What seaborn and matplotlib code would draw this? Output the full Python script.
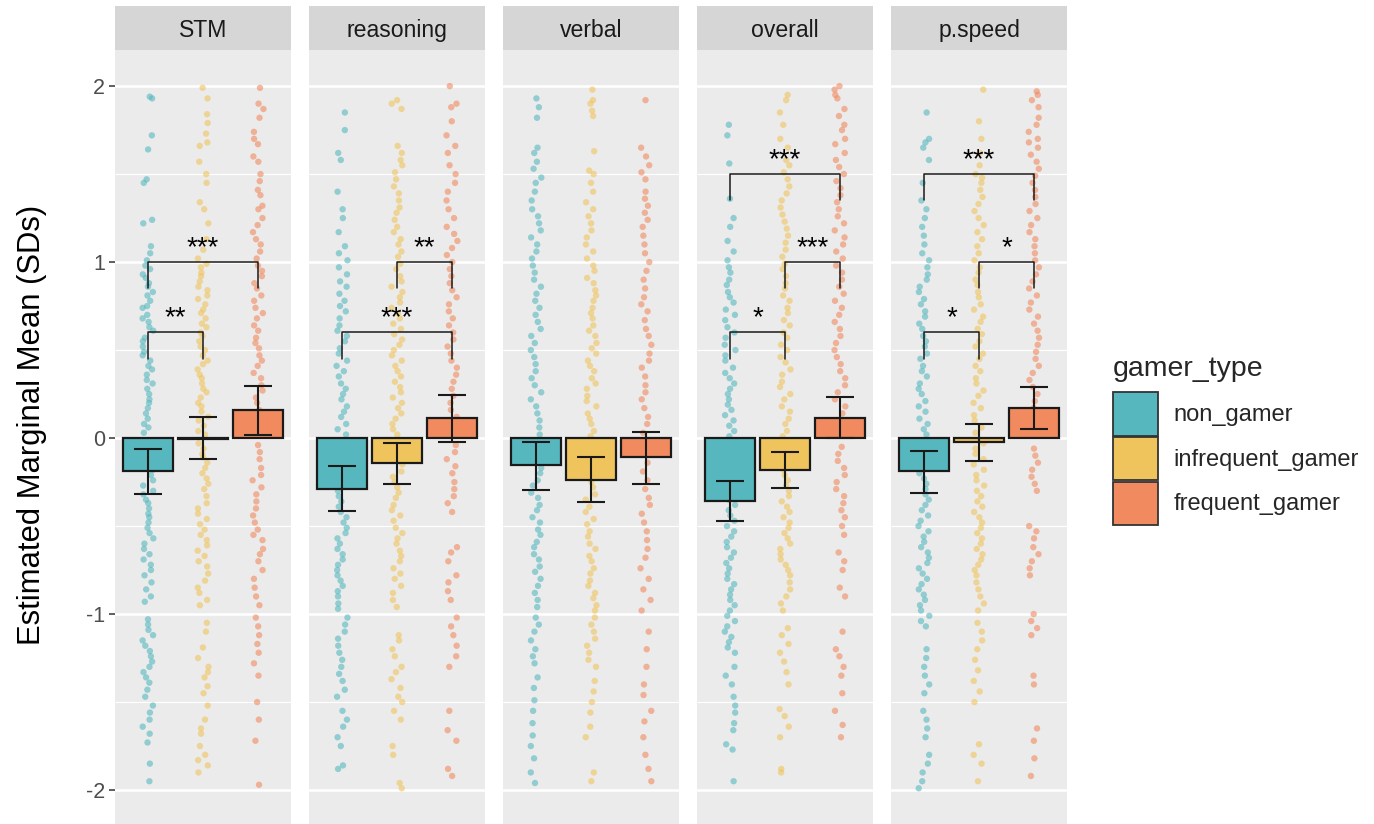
import numpy as np
import pandas as pd
import matplotlib
matplotlib.use("Agg")
import matplotlib.pyplot as plt
import seaborn as sns
from matplotlib.patches import Patch

# ---------------- data ----------------
outcomes = ["STM", "reasoning", "verbal", "overall", "p.speed"]
gamer_types = ["non_gamer", "infrequent_gamer", "frequent_gamer"]
colors = ["#56B8BE", "#F0C45C", "#F18A5E"]

y_ticks = [-2, -1, 0, 1, 2]
y_tick_labels = ["-2", "-1", "0", "1", "2"]

# estimated marginal means and their error-bar limits (non, infrequent, frequent)
emm_stm = [-0.19, -0.005, 0.16]
lo_stm = [-0.32, -0.12, 0.02]
hi_stm = [-0.06, 0.12, 0.295]

emm_rea = [-0.29, -0.14, 0.115]
lo_rea = [-0.415, -0.26, -0.02]
hi_rea = [-0.16, -0.03, 0.245]

emm_ver = [-0.155, -0.24, -0.11]
lo_ver = [-0.295, -0.365, -0.26]
hi_ver = [-0.02, -0.11, 0.034]

emm_ove = [-0.36, -0.18, 0.115]
lo_ove = [-0.47, -0.285, 0.0]
hi_ove = [-0.245, -0.08, 0.235]

emm_psp = [-0.19, -0.025, 0.17]
lo_psp = [-0.31, -0.13, 0.05]
hi_psp = [-0.075, 0.08, 0.29]

# significance brackets: (group a, group b, bracket height, label)
sig_stm = [(0, 2, 1.0, "***"), (0, 1, 0.6, "**")]
sig_rea = [(0, 2, 0.6, "***"), (1, 2, 1.0, "**")]
sig_ver = []
sig_ove = [(0, 2, 1.5, "***"), (1, 2, 1.0, "***"), (0, 1, 0.6, "*")]
sig_psp = [(0, 2, 1.5, "***"), (1, 2, 1.0, "*"), (0, 1, 0.6, "*")]

# individual scores
stm_non = [1.94, 1.93, 1.72, 1.64, 1.47, 1.45, 1.24, 1.22, 1.09, 1.05,
           1.01, 0.98, 0.96, 0.93, 0.91, 0.88, 0.86, 0.83, 0.81, 0.78, 0.75, 0.74, 0.70, 0.68, 0.66, 0.63, 0.61,
           0.57, 0.55, 0.52, 0.49, 0.47, 0.44, 0.41, 0.39, 0.36, 0.33, 0.31, 0.28, 0.25, 0.22, 0.20, 0.17, 0.14,
           0.11, 0.08, 0.06, 0.03, -0.02, -0.04, -0.07, -0.10, -0.13, -0.15, -0.18, -0.21, -0.24, -0.27, -0.30,
           -0.32, -0.35, -0.37, -0.40, -0.43, -0.45, -0.48, -0.51, -0.54, -0.57, -0.60, -0.63, -0.66, -0.69, -0.72,
           -0.75, -0.78, -0.82, -0.86, -0.90, -0.93, -1.03, -1.06, -1.09, -1.12, -1.15, -1.18, -1.21, -1.24, -1.27,
           -1.30, -1.33, -1.36, -1.39, -1.43, -1.47, -1.52, -1.56, -1.60, -1.64, -1.68, -1.73, -1.85, -1.95]
stm_inf = [1.99, 1.93, 1.84, 1.79, 1.73, 1.68, 1.66, 1.57, 1.50, 1.45, 1.34, 1.30, 1.22, 1.13, 1.07, 1.02,
           0.99, 0.97, 0.94, 0.92, 0.89, 0.86, 0.84, 0.81, 0.79, 0.76, 0.73, 0.71, 0.68, 0.65, 0.63, 0.60, 0.58,
           0.55, 0.52, 0.50, 0.47, 0.44, 0.42, 0.39, 0.36, 0.34, 0.31, 0.28, 0.26, 0.23, 0.20, 0.18, 0.15, 0.12,
           0.10, 0.07, 0.04, 0.02, -0.03, -0.06, -0.09, -0.11, -0.14, -0.17, -0.20, -0.23, -0.26, -0.29, -0.33,
           -0.37, -0.40, -0.43, -0.46, -0.49, -0.52, -0.55, -0.58, -0.61, -0.64, -0.67, -0.70, -0.73, -0.77, -0.81,
           -0.85, -0.88, -0.92, -0.95, -1.05, -1.10, -1.19, -1.25, -1.30, -1.33, -1.36, -1.41, -1.45, -1.52, -1.60,
           -1.65, -1.68, -1.75, -1.80, -1.83, -1.86, -1.90]
stm_freq = [1.99, 1.90, 1.87, 1.82, 1.74, 1.70, 1.67, 1.60, 1.57, 1.50, 1.46, 1.41, 1.38, 1.32, 1.30, 1.25,
            1.21, 1.17, 1.13, 1.10, 1.06, 1.02, 0.98, 0.95, 0.92, 0.88, 0.85, 0.81, 0.78, 0.74, 0.71, 0.68, 0.64,
            0.61, 0.57, 0.54, 0.51, 0.47, 0.44, 0.41, 0.37, 0.34, 0.30, 0.27, 0.23, 0.20, 0.16, 0.13, 0.09, 0.05,
            -0.04, -0.08, -0.12, -0.17, -0.21, -0.24, -0.28, -0.32, -0.36, -0.40, -0.44, -0.48, -0.52, -0.55,
            -0.58, -0.63, -0.66, -0.70, -0.75, -0.80, -0.85, -0.90, -0.95, -1.02, -1.07, -1.12, -1.17, -1.22,
            -1.28, -1.35, -1.50, -1.60, -1.72, -1.97]

rea_non = [1.85, 1.75, 1.62, 1.58, 1.40, 1.30, 1.25, 1.17, 1.09, 1.05, 1.01, 0.97, 0.93, 0.89, 0.86, 0.82,
           0.78, 0.75, 0.72, 0.68, 0.64, 0.61, 0.58, 0.55, 0.51, 0.48, 0.44, 0.41, 0.38, 0.35, 0.31, 0.28, 0.25,
           0.22, 0.18, 0.15, 0.12, 0.08, 0.05, 0.02, -0.03, -0.06, -0.09, -0.12, -0.15, -0.18, -0.21, -0.24,
           -0.27, -0.30, -0.33, -0.36, -0.39, -0.42, -0.45, -0.48, -0.51, -0.54, -0.57, -0.60, -0.63, -0.66,
           -0.69, -0.72, -0.75, -0.78, -0.81, -0.84, -0.87, -0.90, -0.94, -0.97, -1.02, -1.06, -1.10, -1.14,
           -1.18, -1.22, -1.26, -1.30, -1.34, -1.38, -1.43, -1.47, -1.55, -1.60, -1.64, -1.70, -1.75, -1.86, -1.88]
rea_inf = [1.92, 1.90, 1.87, 1.66, 1.62, 1.58, 1.55, 1.51, 1.47, 1.43, 1.39, 1.35, 1.31, 1.28, 1.24, 1.20,
           1.17, 1.13, 1.10, 1.06, 1.03, 0.99, 0.96, 0.92, 0.89, 0.86, 0.83, 0.80, 0.77, 0.74, 0.71, 0.68, 0.65,
           0.62, 0.59, 0.56, 0.53, 0.50, 0.47, 0.44, 0.41, 0.38, 0.35, 0.32, 0.29, 0.26, 0.23, 0.20, 0.17, 0.14,
           0.11, 0.08, 0.05, 0.02, -0.03, -0.06, -0.09, -0.12, -0.15, -0.19, -0.22, -0.25, -0.28, -0.31, -0.34,
           -0.38, -0.41, -0.44, -0.47, -0.51, -0.54, -0.57, -0.60, -0.64, -0.67, -0.70, -0.74, -0.77, -0.80,
           -0.84, -0.88, -0.92, -0.96, -1.12, -1.15, -1.20, -1.24, -1.30, -1.33, -1.37, -1.42, -1.47, -1.50,
           -1.55, -1.60, -1.75, -1.80, -1.96, -1.99]
rea_freq = [2.00, 1.90, 1.88, 1.80, 1.72, 1.66, 1.62, 1.55, 1.50, 1.45, 1.40, 1.35, 1.30, 1.25, 1.20, 1.16,
            1.12, 1.08, 1.04, 1.00, 0.96, 0.92, 0.88, 0.84, 0.80, 0.76, 0.72, 0.68, 0.64, 0.60, 0.56, 0.52, 0.48,
            0.44, 0.40, 0.36, 0.32, 0.28, 0.24, 0.20, 0.16, 0.12, 0.08, 0.04, -0.04, -0.08, -0.12, -0.16, -0.20,
            -0.25, -0.29, -0.33, -0.37, -0.42, -0.62, -0.65, -0.70, -0.78, -0.82, -0.87, -0.92, -1.02, -1.07,
            -1.12, -1.18, -1.24, -1.30, -1.55, -1.66, -1.72, -1.88, -1.92]

ver_non = [1.93, 1.88, 1.82, 1.65, 1.62, 1.57, 1.53, 1.48, 1.45, 1.40, 1.35, 1.30, 1.26, 1.22, 1.18, 1.14,
           1.10, 1.06, 1.02, 0.98, 0.94, 0.90, 0.86, 0.82, 0.78, 0.74, 0.70, 0.66, 0.62, 0.58, 0.54, 0.50, 0.46,
           0.42, 0.38, 0.34, 0.30, 0.26, 0.22, 0.18, 0.14, 0.10, 0.06, 0.02, -0.03, -0.06, -0.10, -0.13, -0.17,
           -0.20, -0.24, -0.27, -0.31, -0.34, -0.38, -0.41, -0.45, -0.48, -0.52, -0.55, -0.59, -0.62, -0.66,
           -0.69, -0.73, -0.76, -0.80, -0.84, -0.88, -0.92, -0.96, -1.02, -1.06, -1.10, -1.15, -1.20, -1.24,
           -1.28, -1.36, -1.42, -1.49, -1.55, -1.62, -1.69, -1.75, -1.82, -1.90, -1.96]
ver_inf = [1.98, 1.92, 1.90, 1.86, 1.83, 1.63, 1.52, 1.50, 1.45, 1.40, 1.34, 1.30, 1.26, 1.22, 1.18, 1.14,
           1.10, 1.06, 1.02, 0.98, 0.95, 0.91, 0.88, 0.84, 0.81, 0.78, 0.74, 0.71, 0.68, 0.64, 0.61, 0.58, 0.54,
           0.51, 0.48, 0.44, 0.41, 0.38, 0.34, 0.31, 0.28, 0.24, 0.21, 0.18, 0.14, 0.11, 0.08, 0.04, 0.01, -0.04,
           -0.07, -0.11, -0.14, -0.18, -0.21, -0.25, -0.28, -0.32, -0.35, -0.39, -0.42, -0.46, -0.49, -0.53,
           -0.56, -0.60, -0.63, -0.67, -0.70, -0.74, -0.77, -0.81, -0.84, -0.88, -0.91, -0.95, -0.98, -1.02,
           -1.06, -1.10, -1.14, -1.18, -1.22, -1.26, -1.30, -1.38, -1.44, -1.50, -1.56, -1.64, -1.70, -1.90, -1.95]
ver_freq = [1.92, 1.65, 1.60, 1.55, 1.51, 1.47, 1.40, 1.36, 1.32, 1.28, 1.24, 1.20, 1.15, 1.10, 1.05, 1.00,
            0.95, 0.90, 0.85, 0.80, 0.76, 0.72, 0.67, 0.62, 0.58, 0.53, 0.48, 0.44, 0.40, 0.35, 0.30, 0.26, 0.22,
            0.17, 0.12, 0.08, 0.03, -0.04, -0.09, -0.14, -0.19, -0.24, -0.29, -0.34, -0.38, -0.43, -0.48, -0.53,
            -0.58, -0.63, -0.68, -0.74, -0.80, -0.86, -0.92, -0.98, -1.10, -1.20, -1.30, -1.40, -1.46, -1.55,
            -1.61, -1.70, -1.80, -1.88, -1.95]

ove_non = [1.78, 1.72, 1.56, 1.36, 1.25, 1.20, 1.12, 1.06, 1.01, 0.97, 0.94, 0.90, 0.87, 0.83, 0.80, 0.77,
           0.73, 0.70, 0.67, 0.63, 0.60, 0.57, 0.53, 0.50, 0.47, 0.44, 0.40, 0.37, 0.34, 0.31, 0.28, 0.25, 0.22,
           0.19, 0.16, 0.13, 0.10, 0.07, 0.04, 0.01, -0.02, -0.05, -0.08, -0.11, -0.14, -0.17, -0.20, -0.23,
           -0.26, -0.29, -0.32, -0.35, -0.38, -0.41, -0.44, -0.47, -0.50, -0.53, -0.56, -0.59, -0.62, -0.65,
           -0.68, -0.71, -0.74, -0.77, -0.80, -0.83, -0.86, -0.89, -0.92, -0.95, -0.98, -1.01, -1.04, -1.07,
           -1.10, -1.13, -1.16, -1.19, -1.22, -1.30, -1.35, -1.40, -1.47, -1.52, -1.56, -1.62, -1.66, -1.74,
           -1.77, -1.95]
ove_inf = [1.95, 1.92, 1.85, 1.78, 1.70, 1.65, 1.58, 1.55, 1.51, 1.47, 1.43, 1.39, 1.35, 1.31, 1.27, 1.23,
           1.19, 1.15, 1.11, 1.07, 1.03, 0.99, 0.96, 0.92, 0.88, 0.85, 0.81, 0.78, 0.74, 0.71, 0.67, 0.64, 0.60,
           0.57, 0.53, 0.50, 0.46, 0.43, 0.39, 0.36, 0.32, 0.29, 0.25, 0.22, 0.18, 0.15, 0.11, 0.08, 0.04, 0.01,
           -0.03, -0.06, -0.09, -0.12, -0.15, -0.18, -0.21, -0.24, -0.27, -0.30, -0.33, -0.36, -0.39, -0.42,
           -0.45, -0.48, -0.51, -0.54, -0.57, -0.60, -0.63, -0.66, -0.69, -0.72, -0.75, -0.78, -0.82, -0.86,
           -0.90, -0.94, -0.98, -1.08, -1.12, -1.17, -1.22, -1.27, -1.33, -1.40, -1.54, -1.58, -1.64, -1.70,
           -1.88, -1.90]
ove_freq = [2.00, 1.98, 1.95, 1.93, 1.87, 1.83, 1.78, 1.75, 1.70, 1.67, 1.62, 1.58, 1.54, 1.50, 1.46, 1.42,
            1.38, 1.34, 1.30, 1.26, 1.22, 1.18, 1.14, 1.10, 1.06, 1.02, 0.98, 0.94, 0.90, 0.86, 0.82, 0.78, 0.74,
            0.70, 0.66, 0.62, 0.58, 0.54, 0.50, 0.46, 0.42, 0.38, 0.34, 0.30, 0.26, 0.22, 0.18, 0.14, 0.10, 0.06,
            0.02, -0.05, -0.09, -0.13, -0.17, -0.21, -0.25, -0.29, -0.33, -0.37, -0.41, -0.45, -0.50, -0.55,
            -0.65, -0.70, -0.75, -0.85, -0.90, -1.10, -1.20, -1.24, -1.30, -1.35, -1.45, -1.55, -1.63, -1.70]

psp_non = [1.85, 1.70, 1.68, 1.65, 1.58, 1.45, 1.35, 1.30, 1.25, 1.20, 1.15, 1.10, 1.05, 1.01, 0.97, 0.93,
           0.90, 0.86, 0.83, 0.79, 0.76, 0.72, 0.69, 0.65, 0.62, 0.58, 0.55, 0.52, 0.48, 0.45, 0.41, 0.38, 0.35,
           0.31, 0.28, 0.25, 0.21, 0.18, 0.15, 0.11, 0.08, 0.05, 0.02, -0.02, -0.05, -0.08, -0.11, -0.14, -0.17,
           -0.20, -0.23, -0.26, -0.29, -0.32, -0.35, -0.38, -0.41, -0.44, -0.47, -0.50, -0.53, -0.56, -0.59,
           -0.62, -0.65, -0.68, -0.71, -0.74, -0.77, -0.80, -0.83, -0.86, -0.89, -0.92, -0.95, -0.98, -1.01,
           -1.04, -1.07, -1.20, -1.25, -1.30, -1.35, -1.40, -1.45, -1.55, -1.60, -1.65, -1.70, -1.80, -1.85,
           -1.90, -1.95, -1.99]
psp_inf = [1.98, 1.80, 1.70, 1.62, 1.55, 1.50, 1.48, 1.45, 1.41, 1.37, 1.33, 1.29, 1.25, 1.21, 1.17, 1.13,
           1.09, 1.05, 1.01, 0.97, 0.94, 0.90, 0.87, 0.83, 0.80, 0.76, 0.73, 0.69, 0.66, 0.62, 0.59, 0.55, 0.52,
           0.48, 0.45, 0.41, 0.38, 0.34, 0.31, 0.27, 0.24, 0.20, 0.17, 0.13, 0.10, 0.06, 0.03, -0.03, -0.06,
           -0.09, -0.12, -0.15, -0.18, -0.21, -0.24, -0.27, -0.30, -0.33, -0.36, -0.39, -0.42, -0.45, -0.48,
           -0.51, -0.54, -0.57, -0.60, -0.63, -0.66, -0.69, -0.72, -0.75, -0.78, -0.82, -0.86, -0.90, -0.94,
           -0.98, -1.05, -1.10, -1.15, -1.20, -1.26, -1.32, -1.38, -1.44, -1.50, -1.74, -1.80, -1.85, -1.95]
psp_freq = [1.97, 1.95, 1.92, 1.88, 1.82, 1.78, 1.74, 1.70, 1.68, 1.65, 1.61, 1.57, 1.53, 1.49, 1.45, 1.41,
            1.37, 1.33, 1.29, 1.25, 1.21, 1.17, 1.13, 1.09, 1.05, 1.01, 0.97, 0.93, 0.89, 0.85, 0.81, 0.77, 0.73,
            0.69, 0.65, 0.61, 0.57, 0.53, 0.49, 0.45, 0.41, 0.37, 0.33, 0.29, 0.25, 0.21, 0.17, 0.13, 0.09, 0.05,
            -0.06, -0.10, -0.14, -0.18, -0.22, -0.26, -0.30, -0.50, -0.53, -0.57, -0.62, -0.66, -0.70, -0.74,
            -0.78, -1.00, -1.04, -1.08, -1.12, -1.35, -1.40, -1.65, -1.72, -1.82, -1.92]

# ---------------- assemble tables ----------------
points_by_outcome = {
    "STM": [stm_non, stm_inf, stm_freq],
    "reasoning": [rea_non, rea_inf, rea_freq],
    "verbal": [ver_non, ver_inf, ver_freq],
    "overall": [ove_non, ove_inf, ove_freq],
    "p.speed": [psp_non, psp_inf, psp_freq],
}
emm_by_outcome = {
    "STM": (emm_stm, lo_stm, hi_stm),
    "reasoning": (emm_rea, lo_rea, hi_rea),
    "verbal": (emm_ver, lo_ver, hi_ver),
    "overall": (emm_ove, lo_ove, hi_ove),
    "p.speed": (emm_psp, lo_psp, hi_psp),
}
sig_by_outcome = {"STM": sig_stm, "reasoning": sig_rea, "verbal": sig_ver,
                  "overall": sig_ove, "p.speed": sig_psp}

pts_rows = []
for oc in outcomes:
    for g, vals in zip(gamer_types, points_by_outcome[oc]):
        for v in vals:
            pts_rows.append((oc, g, v))
pts = pd.DataFrame(pts_rows, columns=["outcome", "gamer_type", "value"])

emm_rows = []
for oc in outcomes:
    m, lo, hi = emm_by_outcome[oc]
    for g, mm, l, h in zip(gamer_types, m, lo, hi):
        emm_rows.append((oc, g, mm, l, h))
emm_df = pd.DataFrame(emm_rows, columns=["outcome", "gamer_type", "emm", "lo", "hi"])

# ---------------- figure ----------------
sns.set_style("white")
plt.rcParams["font.family"] = ["Liberation Sans", "DejaVu Sans"]

W, H = 1374, 824
fig = plt.figure(figsize=(W / 100, H / 100), dpi=100)
fig.patch.set_facecolor("white")

panel_left = [115, 309, 503, 697, 891]
panel_w = 176
plot_top = 50
strip_top = 6
ylim = (-2.193, 2.205)
palette = dict(zip(gamer_types, colors))

for i, oc in enumerate(outcomes):
    ax = fig.add_axes([panel_left[i] / W, 0, panel_w / W, (H - plot_top) / H])
    ax.set_facecolor("#EBEBEB")
    sub_pts = pts[pts["outcome"] == oc]
    sub_emm = emm_df[emm_df["outcome"] == oc]

    sns.stripplot(data=sub_pts, x="gamer_type", y="value", hue="gamer_type",
                  order=gamer_types, hue_order=gamer_types, palette=palette,
                  jitter=0.1, size=4.6, alpha=0.6, linewidth=0, legend=False,
                  ax=ax, zorder=2)
    sns.barplot(data=sub_emm, x="gamer_type", y="emm", hue="gamer_type",
                order=gamer_types, hue_order=gamer_types, palette=palette,
                saturation=1, width=0.9, edgecolor="#1A1A1A", linewidth=1.6,
                errorbar=None, legend=False, ax=ax, zorder=3)
    xs = np.arange(len(gamer_types))
    m = sub_emm["emm"].to_numpy()
    ax.errorbar(xs, m, yerr=[m - sub_emm["lo"].to_numpy(), sub_emm["hi"].to_numpy() - m],
                fmt="none", ecolor="#1A1A1A", elinewidth=1.5, capsize=10, capthick=1.5, zorder=4)

    for a, b, yb, lab in sig_by_outcome[oc]:
        ax.plot([a, a, b, b], [yb - 0.15, yb, yb, yb - 0.15], color="#1A1A1A", lw=1.1, zorder=5)
        ax.text((a + b) / 2, yb + 0.04, lab, ha="center", va="baseline",
                fontsize=20, color="black", zorder=5)

    ax.set_xlim(-0.6, 2.6)
    ax.set_ylim(*ylim)
    ax.set_yticks(y_ticks)
    ax.set_yticks([-1.5, -0.5, 0.5, 1.5], minor=True)
    ax.grid(True, which="major", axis="y", color="white", lw=1.8)
    ax.grid(True, which="minor", axis="y", color="white", lw=0.8)
    ax.grid(False, axis="x")
    ax.set_axisbelow(True)
    for s in ax.spines.values():
        s.set_visible(False)
    ax.set_xlabel("")
    ax.set_xticks([])
    if i == 0:
        ax.set_yticklabels(y_tick_labels)
        ax.tick_params(axis="y", which="major", length=4, width=1.1, color="#333333",
                       labelsize=15.5, labelcolor="#4D4D4D", pad=3, left=True)
        ax.tick_params(axis="y", which="minor", length=0)
        ax.set_ylabel("Estimated Marginal Mean (SDs)", fontsize=22.3, color="black")
        ax.yaxis.set_label_coords(-0.387, 0.515)
    else:
        ax.set_ylabel("")
        ax.tick_params(axis="y", which="both", length=0, labelleft=False)

    sax = fig.add_axes([panel_left[i] / W, (H - plot_top) / H, panel_w / W, (plot_top - strip_top) / H])
    sax.set_facecolor("#D6D6D6")
    sax.set_xticks([])
    sax.set_yticks([])
    for s in sax.spines.values():
        s.set_visible(False)
    sax.text(0.5, 0.45, oc, ha="center", va="center", fontsize=16.6, color="#1A1A1A",
             transform=sax.transAxes)

handles = [Patch(facecolor=c, edgecolor="#333333", linewidth=1.3, label=g)
           for g, c in zip(gamer_types, colors)]
leg = fig.legend(handles=handles, title="gamer_type", loc="upper left",
                 bbox_to_anchor=(1113 / W, 1 - 356 / H), frameon=False,
                 fontsize=17, title_fontsize=20.5, handlelength=1.9, handleheight=2.45,
                 labelspacing=0.05, handletextpad=0.65, borderpad=0, borderaxespad=0,
                 alignment="left")
leg._legend_box.sep = 7.5

fig.savefig("out.png", dpi=100)
